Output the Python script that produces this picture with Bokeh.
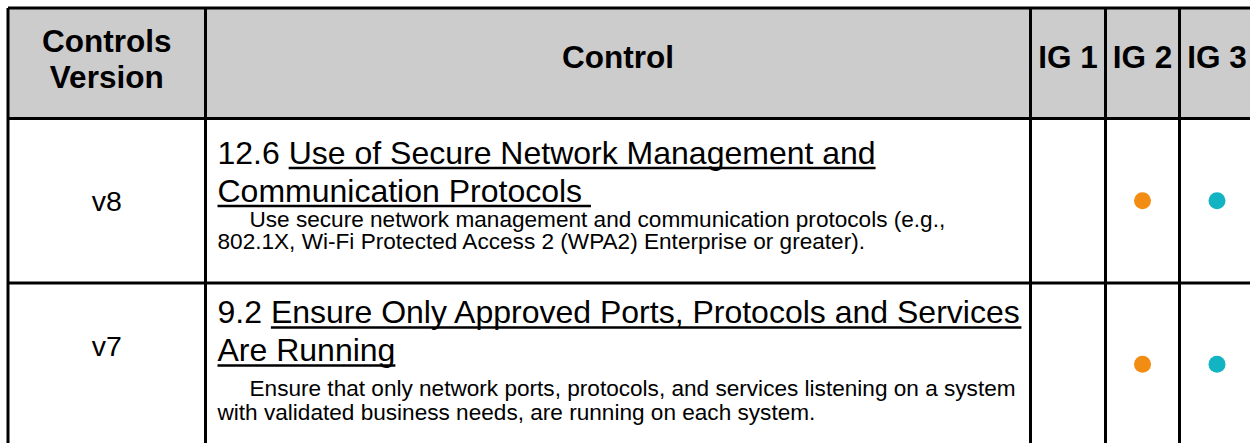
from bokeh.plotting import figure
from bokeh.models import Range1d
from bokeh.core.properties import value
from bokeh.embed import file_html
from bokeh.resources import INLINE

# ---------------- data ----------------
header_version = ["Controls", "Version"]
header_cols = ["Control", "IG 1", "IG 2", "IG 3"]
versions = ["v8", "v7"]
control_ids = ["12.6", "9.2"]
title_lines = [
    ["Use of Secure Network Management and", "Communication Protocols "],
    ["Ensure Only Approved Ports, Protocols and Services", "Are Running"],
]
desc_lines = [
    ["Use secure network management and communication protocols (e.g.,",
     "802.1X, Wi-Fi Protected Access 2 (WPA2) Enterprise or greater)."],
    ["Ensure that only network ports, protocols, and services listening on a system",
     "with validated business needs, are running on each system."],
]
ig1 = [False, False]
ig2 = [True, True]
ig3 = [True, True]

# ---------------- layout / style ----------------
FONT = "Liberation Sans"
col_edges = [7.5, 205, 1030, 1105, 1179, 1254]
row_edges = [7.5, 118, 282.5, 445]
HEAD_SIZE, TITLE_SIZE, DESC_SIZE, VER_SIZE = 31.5, 32, 22.6, 28.5
PAD_X, INDENT = 12, 32
# vertical text centres relative to the top of each body row
row_text_off = [[34, 72, 101, 123], [29, 67, 105, 129]]
ver_off = [82, 63]
head_ys = [40, 76.5, 56.5]
UNDER_OFF = 15.5
ig_colors = [None, "#F28C12", "#12B3C2"]

# Arial / Liberation Sans advance widths (1/1000 em)
W = {' ': 278, '!': 278, '(': 333, ')': 333, ',': 278, '-': 333, '.': 278}
for c in "0123456789":
    W[c] = 556
W.update(dict(A=667, B=667, C=722, D=722, E=667, F=611, G=778, H=722, I=278, J=500,
              K=667, L=556, M=833, N=722, O=778, P=667, Q=778, R=722, S=667, T=611,
              U=722, V=667, W=944, X=667, Y=667, Z=611))
W.update(dict(a=556, b=556, c=500, d=556, e=556, f=278, g=556, h=556, i=222, j=222,
              k=500, l=222, m=833, n=556, o=556, p=556, q=556, r=333, s=500, t=278,
              u=556, v=500, w=722, x=500, y=500, z=500))


def tw(s, size):
    return sum(W.get(ch, 556) for ch in s) / 1000.0 * size


WIDTH, HEIGHT = 1250, 443
p = figure(width=WIDTH, height=HEIGHT, output_backend="svg", toolbar_location=None,
           x_range=Range1d(0, WIDTH), y_range=Range1d(HEIGHT, 0),
           x_axis_type=None, y_axis_type=None, min_border=0,
           outline_line_color=None, background_fill_color="white")
p.grid.visible = False

# header background
p.quad(left=[col_edges[0]], right=[col_edges[-1]], top=[row_edges[0]], bottom=[row_edges[1]],
       fill_color="#CCCCCC", line_color=None)

# grid lines
p.segment(x0=col_edges, y0=[row_edges[0]] * len(col_edges),
          x1=col_edges, y1=[row_edges[-1]] * len(col_edges),
          line_color="black", line_width=3)
p.segment(x0=[col_edges[0]] * len(row_edges), y0=row_edges,
          x1=[col_edges[-1]] * len(row_edges), y1=row_edges,
          line_color="black", line_width=3)

# header texts
hx, hy, ht = [], [], []
cx0 = (col_edges[0] + col_edges[1]) / 2
hx += [cx0, cx0]
hy += [head_ys[0], head_ys[1]]
ht += header_version
for j, name in enumerate(header_cols):
    hx.append((col_edges[j + 1] + col_edges[j + 2]) / 2)
    hy.append(head_ys[2])
    ht.append(name)
p.text(x=hx, y=hy, text=ht, text_font=value(FONT), text_font_size=value(f"{HEAD_SIZE}px"),
       text_font_style="bold", text_align="center", text_baseline="alphabetic", text_color="black")

# body
vx, vy, vt = [], [], []
tx, ty, tt = [], [], []
dx, dy, dt = [], [], []
ux0, ux1, uy = [], [], []
dotx, doty, dotc = [], [], []
for i in range(len(versions)):
    top = row_edges[i + 1]
    bot = row_edges[i + 2]
    o = row_text_off[i]
    vx.append(cx0)
    vy.append(top + ver_off[i])
    vt.append(versions[i])

    x0 = col_edges[1] + PAD_X
    prefix = control_ids[i] + " "
    t1, t2 = title_lines[i]
    tx += [x0, x0]
    ty += [top + o[0], top + o[1]]
    tt += [prefix + t1, t2]
    # underline of the linked title
    ux0 += [x0 + tw(prefix, TITLE_SIZE), x0]
    ux1 += [x0 + tw(prefix + t1, TITLE_SIZE), x0 + tw(t2, TITLE_SIZE)]
    uy += [top + o[0] + UNDER_OFF, top + o[1] + UNDER_OFF]

    d1, d2 = desc_lines[i]
    dx += [x0 + INDENT, x0]
    dy += [top + o[2], top + o[3]]
    dt += [d1, d2]

    for k, flag in enumerate([ig1[i], ig2[i], ig3[i]]):
        if flag:
            dotx.append((col_edges[k + 2] + col_edges[k + 3]) / 2)
            doty.append((top + bot) / 2)
            dotc.append(ig_colors[k])

p.text(x=vx, y=vy, text=vt, text_font=value(FONT), text_font_size=value(f"{VER_SIZE}px"),
       text_align="center", text_baseline="alphabetic", text_color="black")
p.text(x=tx, y=ty, text=tt, text_font=value(FONT), text_font_size=value(f"{TITLE_SIZE}px"),
       text_align="left", text_baseline="alphabetic", text_color="black")
p.segment(x0=ux0, y0=uy, x1=ux1, y1=uy, line_color="black", line_width=2.5)
p.text(x=dx, y=dy, text=dt, text_font=value(FONT), text_font_size=value(f"{DESC_SIZE}px"),
       text_align="left", text_baseline="alphabetic", text_color="black")
p.scatter(x=dotx, y=doty, size=17, fill_color=dotc, line_color=None)

open("out.html", "w").write(file_html(p, INLINE))
